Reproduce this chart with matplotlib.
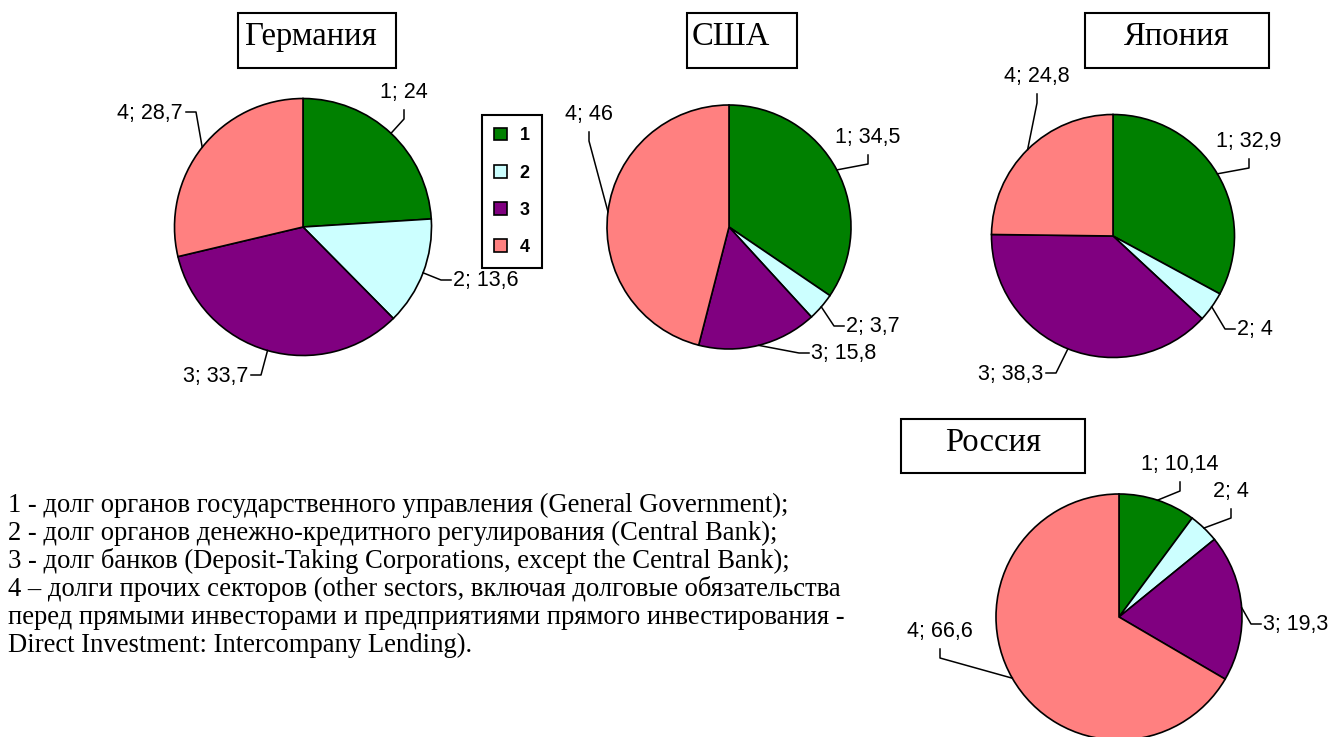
import matplotlib
matplotlib.use('Agg')
import matplotlib.pyplot as plt
from matplotlib.patches import Rectangle
import numpy as np

# data
categories = ['1', '2', '3', '4']
countries = ['Германия', 'США', 'Япония', 'Россия']
germany = [24, 13.6, 33.7, 28.7]
usa = [34.5, 3.7, 15.8, 46]
japan = [32.9, 4, 38.3, 24.8]
russia = [10.14, 4, 19.3, 66.6]
colors = ['#008000', '#CCFFFF', '#800080', '#FF8080']

notes = [
    '1 - долг органов государственного управления (General Government);',
    '2 - долг органов денежно-кредитного регулирования (Central Bank);',
    '3 - долг банков (Deposit-Taking Corporations, except the Central Bank);',
    '4 – долги прочих секторов (other sectors, включая долговые обязательства',
    'перед прямыми инвесторами и предприятиями прямого инвестирования -',
    'Direct Investment: Intercompany Lending).',
]

# layout in pixel coords (y down)
W, H = 1330, 737
layout = [
    # values, center, radius, title box, title x, title ha, label spots
    (germany, (303, 227), 128.5, (238, 13, 158, 55), 245, 'left',
     [('b', 404, 91), ('l', 453, 279), ('r', 248, 375), ('r', 183, 112)]),
    (usa, (729, 227), 122, (687, 13, 110, 55), 692, 'left',
     [('b', 868, 136), ('l', 846, 325), ('l', 811, 352), ('b', 589, 113)]),
    (japan, (1113, 236), 121.5, (1085, 13, 184, 55), 1177, 'center',
     [('b', 1249, 140), ('l', 1237, 328), ('r', 1043, 373), ('b', 1037, 75)]),
    (russia, (1119, 617), 123, (901, 419, 184, 54), 993, 'center',
     [('b', 1180, 463), ('b', 1231, 490), ('l', 1263, 623), ('b', 940, 630)]),
]

label_font = dict(family='Liberation Sans', fontsize=15.5)
title_font = dict(family='Liberation Serif', fontsize=23.5)

fig = plt.figure(figsize=(W / 100, H / 100), dpi=100)
ax = fig.add_axes([0, 0, 1, 1])

handles = None
for name, (vals, c, r, box, tx, tha, spots) in zip(countries, layout):
    wedges, _ = ax.pie(vals, colors=colors, center=c, radius=r,
                       startangle=-90, counterclock=True,
                       wedgeprops=dict(edgecolor='black', linewidth=1.2))
    if handles is None:
        handles = wedges
    # title box
    bx, by, bw, bh = box
    ax.add_patch(Rectangle((bx, by), bw, bh, fill=False, ec='black', lw=1.5))
    ax.text(tx, by + 32, name, ha=tha, va='baseline', **title_font)
    # data labels with leader lines
    for cat, v, w, (mode, x, y) in zip(categories, vals, wedges, spots):
        ang = np.deg2rad((w.theta1 + w.theta2) / 2)
        edge = (c[0] + r * np.cos(ang), c[1] + r * np.sin(ang))
        txt = f'{cat}; ' + f'{v:g}'.replace('.', ',')
        if mode == 'b':
            ax.text(x, y + 7, txt, ha='center', va='baseline', **label_font)
            a, e = (x, y + 19), (x, y + 28)
        elif mode == 'l':
            ax.text(x, y + 7, txt, ha='left', va='baseline', **label_font)
            a, e = (x - 2, y + 1), (x - 12, y + 1)
        else:
            ax.text(x, y + 7, txt, ha='right', va='baseline', **label_font)
            a, e = (x + 3, y), (x + 13, y)
        ax.plot([a[0], e[0], edge[0]], [a[1], e[1], edge[1]],
                color='black', lw=1.1)

ax.set_xlim(0, W)
ax.set_ylim(H, 0)
ax.axis('off')

leg = fig.legend(handles, categories, loc='upper left',
                 bbox_to_anchor=(482 / W, 1 - 115 / H), borderaxespad=0,
                 fancybox=False, edgecolor='black', framealpha=1,
                 handlelength=0.7, handleheight=0.7, handletextpad=0.7,
                 labelspacing=1.12, borderpad=0.68,
                 prop=dict(family='Liberation Sans', weight='bold', size=13))
leg.get_frame().set_linewidth(1.5)

for i, line in enumerate(notes):
    ax.text(8, 512 + 28 * i, line, ha='left', va='baseline',
            family='Liberation Serif', fontsize=19.2)

fig.savefig('out.png', dpi=100)
